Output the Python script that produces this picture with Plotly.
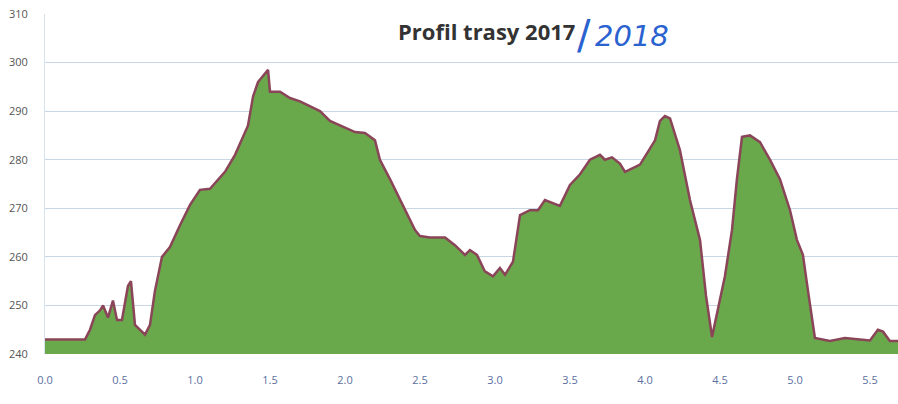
import plotly.graph_objects as go

distance_km = [0.0, 0.267, 0.30, 0.333, 0.367, 0.387, 0.42, 0.453, 0.48, 0.513, 0.553, 0.573, 0.60, 0.633, 0.667, 0.70,
               0.733, 0.78, 0.833, 0.90, 0.967, 1.033, 1.10, 1.20, 1.267, 1.353, 1.387, 1.42, 1.487, 1.50, 1.567,
               1.633, 1.70, 1.833, 1.90, 2.067, 2.133, 2.20, 2.233, 2.30, 2.40, 2.467, 2.50, 2.567, 2.667, 2.733,
               2.80, 2.833, 2.88, 2.933, 2.987, 3.033, 3.067, 3.12, 3.167, 3.233, 3.287, 3.333, 3.433, 3.50,
               3.567, 3.633, 3.70, 3.733, 3.78, 3.833, 3.867, 3.967, 4.067, 4.10, 4.133, 4.167, 4.233, 4.30,
               4.367, 4.407, 4.447, 4.487, 4.533, 4.58, 4.613, 4.647, 4.70, 4.767, 4.833, 4.90, 4.967, 5.013,
               5.053, 5.087, 5.133, 5.233, 5.30, 5.333, 5.50, 5.553, 5.587, 5.633, 5.687]
elevation_m = [243.0, 243.0, 245.0, 248.0, 249.0, 250.0, 247.5, 251.0, 247.0, 247.0, 254.0, 255.0, 246.0, 245.0, 244.0, 246.0,
               253.0, 260.0, 262.0, 266.5, 270.7, 273.8, 274.0, 277.5, 281.0, 287.0, 293.0, 296.0, 298.5, 294.0, 294.0,
               292.7, 292.0, 290.0, 288.0, 285.7, 285.5, 284.0, 280.0, 276.0, 269.6, 265.5, 264.3, 264.0, 264.0, 262.4,
               260.4, 261.4, 260.4, 257.0, 256.0, 257.7, 256.3, 259.0, 268.6, 269.6, 269.6, 271.7, 270.5, 274.8,
               277.0, 280.0, 281.0, 280.0, 280.5, 279.2, 277.5, 279.0, 284.0, 288.0, 289.0, 288.5, 282.0, 271.7,
               263.5, 252.0, 243.5, 249.0, 256.0, 265.5, 276.0, 284.7, 285.0, 283.6, 280.0, 276.0, 269.6, 263.5,
               260.4, 253.0, 243.3, 242.7, 243.0, 243.3, 242.8, 245.0, 244.6, 242.7, 242.7]

y_ticks = [240, 250, 260, 270, 280, 290, 300, 310]
x_ticks = [0.0, 0.5, 1.0, 1.5, 2.0, 2.5, 3.0, 3.5, 4.0, 4.5, 5.0, 5.5]

fig = go.Figure()
fig.add_trace(go.Scatter(
    x=distance_km, y=elevation_m, mode="lines",
    line=dict(color="#8a4558", width=2.5),
    fill="tozeroy", fillcolor="#6aa84c",
    hoverinfo="x+y", showlegend=False,
))

fig.update_layout(
    width=898, height=404, autosize=False,
    margin=dict(l=45, r=0, t=14, b=50),
    paper_bgcolor="white", plot_bgcolor="white",
    font=dict(family="Open Sans, DejaVu Sans, sans-serif", color="#6b7280"),
    xaxis=dict(range=[0, 5.687], tickvals=x_ticks, ticktext=[f"{v:.1f}" for v in x_ticks],
               automargin=False, showgrid=False, zeroline=False, showline=False, ticks="",
               ticklabelstandoff=18,
               tickfont=dict(size=11, color="#5b6fa0")),
    yaxis=dict(range=[240, 310], tickvals=y_ticks, showgrid=True, gridcolor="#c9d6e3", gridwidth=1,
               automargin=False, zeroline=False, showline=True, linecolor="#d6e2ee", ticks="",
               ticklabelstandoff=14,
               tickfont=dict(size=11, color="#555555")),
)
# title placed at pixel row ~31 of the figure
title_y = 240 + (354 - 31) / (340 / 70)
fig.add_annotation(text="<b>Profil trasy 2017</b>", x=0.624, y=title_y, xref="paper", yref="y",
                   xanchor="right", yanchor="middle", showarrow=False,
                   font=dict(size=22, color="#333333", family="Open Sans, DejaVu Sans, sans-serif"))
fig.add_annotation(text="/", x=0.621, y=title_y, xref="paper", yref="y",
                   xanchor="left", yanchor="middle", showarrow=False, yshift=-4,
                   font=dict(size=40, color="#2a62d0", family="DejaVu Sans, sans-serif"))
fig.add_annotation(text="<i>2018</i>", x=0.642, y=title_y, xref="paper", yref="y",
                   xanchor="left", yanchor="middle", showarrow=False, yshift=-5,
                   font=dict(size=29, color="#2a62d0", family="DejaVu Sans, sans-serif"))

fig.write_html(
    "out.html",
    config={"responsive": False, "displayModeBar": False},
    post_script="document.body.style.margin='0';document.body.style.overflow='hidden';",
)
